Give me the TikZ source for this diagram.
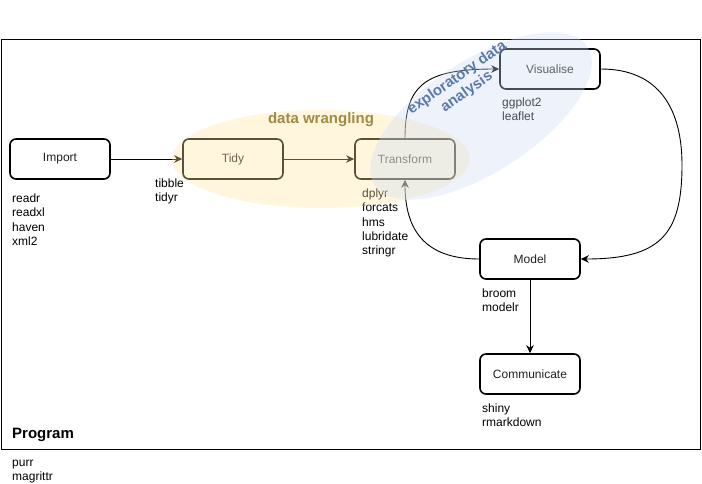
\documentclass[tikz,border=0pt]{standalone}
\usepackage{fontspec}
\setmainfont{Liberation Sans}
\usetikzlibrary{arrows.meta}
\definecolor{wrangfill}{HTML}{FFE6A0}
\definecolor{edafill}{HTML}{D0DEF5}
\definecolor{wrangtext}{HTML}{A08A45}
\definecolor{edatext}{HTML}{5A7AAE}
\definecolor{boxtext}{HTML}{222222}
\begin{document}
\begin{tikzpicture}[x=1pt,y=-1pt,
  stagebox/.style={draw=black, line width=1.6pt, rounded corners=6pt, fill=white,
    minimum width=100pt, minimum height=40pt, inner sep=0pt, text=boxtext,
    font=\fontsize{12}{14.4}\selectfont},
  libs/.style={anchor=north west, align=left, inner sep=0pt,
    font=\fontsize{12}{14.4}\selectfont},
  conn/.style={line width=0.9pt, -{Stealth[length=8pt,width=7.5pt,inset=2.5pt]}},
  bigtext/.style={font=\bfseries\fontsize{15}{17}\selectfont, inner sep=0pt}
]
\useasboundingbox (0,0) rectangle (702,483);
\fill[white] (0,0) rectangle (702,483);

% frame
\draw[line width=1pt] (1,39) rectangle (700,449);
\node[bigtext, anchor=west] (program) at (12,435) {Program};
\node[libs] (programlibs) at (12,456) {\strut purr\\magrittr};

% stages
\node[stagebox] (import) at (60,159) {Import};
\node[stagebox] (tidy) at (233,159) {Tidy};
\node[stagebox] (transform) at (405,159) {Transform};
\node[stagebox] (visualise) at (550,69) {Visualise};
\node[stagebox] (model) at (530,259) {Model};
\node[stagebox] (communicate) at (530,374) {Communicate};

% libraries
\node[libs] (importlibs) at (12,192) {\strut readr\\readxl\\haven\\xml2};
\node[libs] (tidylibs) at (155,177) {\strut tibble\\tidyr};
\node[libs] (transformlibs) at (362,187) {\strut dplyr\\forcats\\hms\\lubridate\\stringr};
\node[libs] (visualiselibs) at (502,96) {\strut ggplot2\\leaflet};
\node[libs] (modellibs) at (482,287) {\strut broom\\modelr};
\node[libs] (communicatelibs) at (482,402) {\strut shiny\\rmarkdown};

% connectors
\coordinate (loopright) at (682,165);
\draw[conn] (import.east) -- (tidy.west);
\draw[conn] (tidy.east) -- (transform.west);
\draw[conn] (transform.north) .. controls (405,85) and (425,69) .. (visualise.west);
\draw[line width=0.9pt] (visualise.east) .. controls (660,69) and (682,110) .. (loopright);
\draw[conn] (loopright) .. controls (682,235) and (660,259) .. (model.east);
\draw[conn] (model.west) .. controls (425,259) and (405,230) .. (transform.south);
\draw[conn] (model.south) -- (communicate.north);

% overlays
\fill[wrangfill, fill opacity=0.35] (321,159) ellipse [x radius=149pt, y radius=49pt];
\fill[edafill, fill opacity=0.35, rotate around={33:(481,116)}] (481,116) ellipse [x radius=127pt, y radius=56pt];

\node[bigtext, text=wrangtext] (wrangling) at (321,120) {data wrangling};
\node[bigtext, text=edatext, align=center, rotate=35] (eda) at (462,85) {exploratory data\\analysis};
\end{tikzpicture}
\end{document}
